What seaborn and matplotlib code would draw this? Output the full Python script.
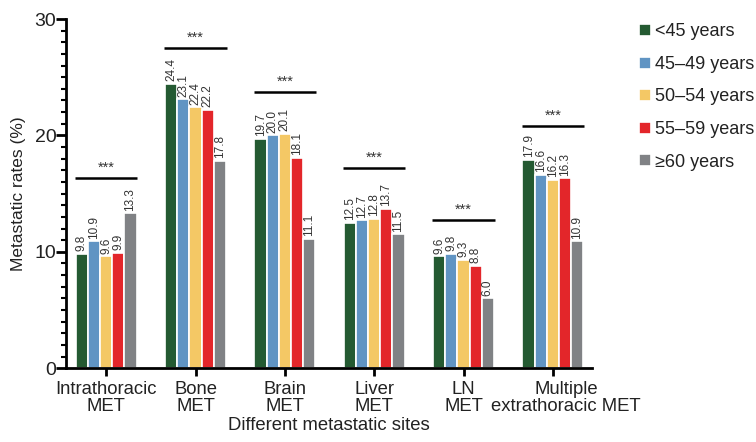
import matplotlib
matplotlib.use("Agg")
import matplotlib.pyplot as plt
from matplotlib.ticker import MultipleLocator
from matplotlib.transforms import ScaledTranslation
import pandas as pd
import seaborn as sns

sites = ["Intrathoracic\nMET", "Bone\nMET", "Brain\nMET", "Liver\nMET", "LN\nMET",
         "Multiple\nextrathoracic MET"]
age_groups = ["<45 years", "45\u201349 years", "50\u201354 years", "55\u201359 years", "\u226560 years"]

rate_lt45 = [9.8, 24.4, 19.7, 12.5, 9.6, 17.9]
rate_45_49 = [10.9, 23.1, 20.0, 12.7, 9.8, 16.6]
rate_50_54 = [9.6, 22.4, 20.1, 12.8, 9.3, 16.2]
rate_55_59 = [9.9, 22.2, 18.1, 13.7, 8.8, 16.3]
rate_ge60 = [13.3, 17.8, 11.1, 11.5, 6.0, 10.9]

# height of the significance bar above each site
sig_heights = [16.3, 27.5, 23.7, 17.2, 12.7, 20.8]
sig_label = "***"

colors = ["#245a32", "#6094c3", "#f4c865", "#e3262a", "#808285"]

series = [rate_lt45, rate_45_49, rate_50_54, rate_55_59, rate_ge60]
rows = []
for grp, vals in zip(age_groups, series):
    for site, v in zip(sites, vals):
        rows.append({"site": site, "age": grp, "rate": v})
df = pd.DataFrame(rows)

sns.set_theme(style="white")
plt.rcParams["font.family"] = ["Liberation Sans", "DejaVu Sans"]

fig = plt.figure(figsize=(7.56, 4.42), dpi=100)
ax = fig.add_axes([0.0873, 0.167, 0.696, 0.790])

sns.barplot(data=df, x="site", y="rate", hue="age", order=sites, hue_order=age_groups,
            palette=colors, width=0.68, saturation=1, edgecolor="white", linewidth=1.2,
            errorbar=None, ax=ax, legend=True)

# value labels above bars
for cont in ax.containers:
    ax.bar_label(cont, labels=[f"{b.get_height():.1f}" for b in cont], rotation=90,
                 padding=2, fontsize=8.5, color="#333333")

# significance bars
for i, h in enumerate(sig_heights):
    ax.plot([i - 0.35, i + 0.35], [h, h], color="black", lw=1.8, solid_capstyle="butt")
    ax.text(i, h + 0.3, sig_label, ha="center", va="bottom", fontsize=10.5, color="#333333")

ax.set_ylim(0, 30)
ax.set_xlim(-0.45, 5.44)
ax.yaxis.set_major_locator(MultipleLocator(10))
ax.yaxis.set_minor_locator(MultipleLocator(1))
ax.set_ylabel("Metastatic rates (%)", fontsize=12.5, color="#222222", labelpad=6)
ax.set_xlabel("Different metastatic sites", fontsize=13.3, color="#222222", labelpad=1)

for s in ["top", "right"]:
    ax.spines[s].set_visible(False)
for s in ["left", "bottom"]:
    ax.spines[s].set_linewidth(2)
    ax.spines[s].set_color("black")

ax.tick_params(axis="y", which="major", direction="out", length=7, width=2,
               labelsize=14, colors="black", labelcolor="#222222", left=True, pad=0)
ax.tick_params(axis="y", which="minor", direction="out", length=3.5, width=1.5,
               colors="black", left=True)
ax.tick_params(axis="x", which="major", direction="out", length=6, width=2,
               labelsize=13.3, colors="black", labelcolor="#222222", bottom=True, pad=3)
xlabels = ax.get_xticklabels()
for lbl in xlabels:
    lbl.set_linespacing(1.05)
# the long last label sits a little to the right of its tick
xlabels[-1].set_transform(xlabels[-1].get_transform() +
                          ScaledTranslation(0.13, 0, fig.dpi_scale_trans))

leg = ax.legend(loc="upper left", bbox_to_anchor=(1.075, 1.008), frameon=False, fontsize=13,
                handlelength=0.65, handleheight=0.65, handletextpad=0.25, labelspacing=0.86,
                borderaxespad=0)
for t in leg.get_texts():
    t.set_color("#222222")

fig.savefig("out.png", dpi=100)
